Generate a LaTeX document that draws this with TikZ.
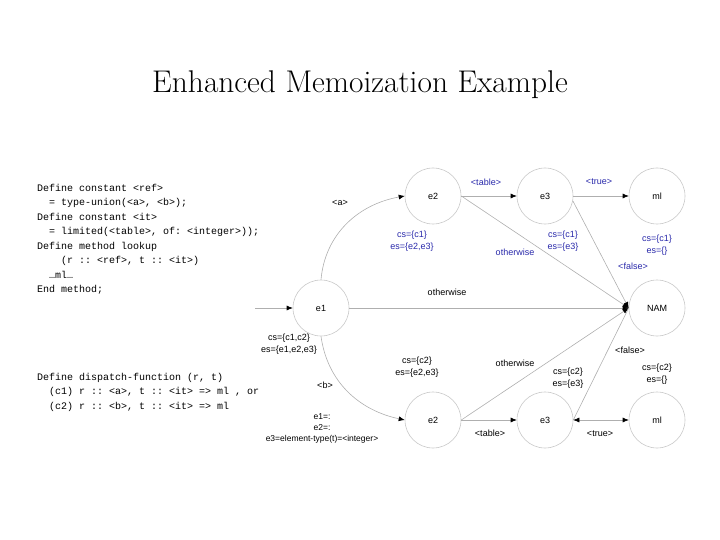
\documentclass[tikz,border=0pt]{standalone}
\usepackage{fontspec}
\setsansfont{Liberation Sans}
\setmonofont{Liberation Mono}
\usetikzlibrary{arrows.meta}

\definecolor{labblue}{RGB}{40,40,170}
\definecolor{ringgray}{RGB}{200,200,200}
\definecolor{linegray}{RGB}{175,175,175}

\newcommand{\ind}[1]{\hspace*{#1\dimexpr 6pt\relax}}

\tikzset{
  state/.style={circle, draw=ringgray, line width=0.6pt, minimum size=56pt,
    inner sep=0pt, font=\sffamily\fontsize{9}{10}\selectfont},
  edge/.style={draw=linegray, line width=0.6pt,
    -{Latex[length=6pt,width=5pt,color=black]}},
  lab/.style={font=\sffamily\fontsize{9}{12}\selectfont, align=center, inner sep=0pt},
  blab/.style={lab, text=labblue},
  code/.style={font=\ttfamily\fontsize{10}{14.5}\selectfont, align=left,
    anchor=north west, inner sep=0pt}
}

\begin{document}
\begin{tikzpicture}[x=1pt,y=1pt]
  \useasboundingbox (0,0) rectangle (720,-540);

  \node (title) at (360,-85) {\fontsize{31.4}{33}\selectfont Enhanced Memoization Example};

  % source code
  \node[code] (defs) at (37,-184) {Define constant <ref>\\
    \ind{2}= type-union(<a>, <b>);\\
    Define constant <it>\\
    \ind{2}= limited(<table>, of: <integer>));\\
    Define method lookup\\
    \ind{4}(r :: <ref>, t :: <it>)\\
    \ind{2}…ml…\\
    End method;};
  \node[code] (dispatch) at (37,-373) {Define dispatch-function (r, t)\\
    \ind{2}(c1) r :: <a>, t :: <it> => ml , or\\
    \ind{2}(c2) r :: <b>, t :: <it> => ml};

  % states
  \node[state] (e1)    at (321,-308) {e1};
  \node[state] (top2)  at (433,-196) {e2};
  \node[state] (top3)  at (545,-196) {e3};
  \node[state] (topml) at (657,-196) {ml};
  \node[state] (nam)   at (657,-308) {NAM};
  \node[state] (bot2)  at (433,-420) {e2};
  \node[state] (bot3)  at (545,-420) {e3};
  \node[state] (botml) at (657,-420) {ml};
  \coordinate (start) at (255,-308);

  % transitions
  \draw[edge] (start) -- (e1);
  \draw[edge] (e1.north) to[out=85,in=190] (top2.west);
  \draw[edge] (e1.south) to[out=-82,in=168] (bot2.west);
  \draw[edge] (e1) -- (nam.west);
  \draw[edge] (top2) -- (top3);
  \draw[edge] (top3) -- (topml);
  \draw[edge] (top2.east) -- (nam.west);
  \draw[edge] (top3.-10) -- (nam.west);
  \draw[edge] (bot2.east) -- (nam.west);
  \draw[draw=linegray, line width=0.6pt] (nam.west) -- (bot3.east);
  \draw[edge] (bot2) -- (bot3);
  \draw[edge, {Latex[length=6pt,width=5pt,color=black]}-{Latex[length=6pt,width=5pt,color=black]}] (bot3) -- (botml);

  % labels
  \node[lab]  (la)     at (340,-203) {<a>};
  \node[lab]  (lb)     at (325,-385) {<b>};
  \node[lab]  (lother) at (447,-292) {otherwise};
  \node[blab] (ltab1)  at (486,-182) {<table>};
  \node[blab] (ltrue1) at (599,-182) {<true>};
  \node[blab] (loth1)  at (515,-252) {otherwise};
  \node[blab] (lfal1)  at (633,-266) {<false>};
  \node[blab] (cs2t)   at (412,-241) {cs=\{c1\}\\es=\{e2,e3\}};
  \node[blab] (cs3t)   at (563,-241) {cs=\{c1\}\\es=\{e3\}};
  \node[blab] (csmlt)  at (657,-245) {cs=\{c1\}\\es=\{\}};
  \node[lab]  (cs1)    at (289,-344) {cs=\{c1,c2\}\\es=\{e1,e2,e3\}};
  \node[lab]  (cs2b)   at (417,-367) {cs=\{c2\}\\es=\{e2,e3\}};
  \node[lab]  (loth2)  at (515,-363) {otherwise};
  \node[lab]  (lfal2)  at (630,-350) {<false>};
  \node[lab]  (cs3b)   at (568,-378) {cs=\{c2\}\\es=\{e3\}};
  \node[lab]  (csmlb)  at (657,-374) {cs=\{c2\}\\es=\{\}};
  \node[lab, font=\sffamily\fontsize{8.5}{11}\selectfont] (lenv) at (322,-428)
    {e1=:\\e2=:\\e3=element-type(t)=<integer>};
  \node[lab]  (ltab2)  at (490,-433) {<table>};
  \node[lab]  (ltrue2) at (600,-434) {<true>};
\end{tikzpicture}
\end{document}
